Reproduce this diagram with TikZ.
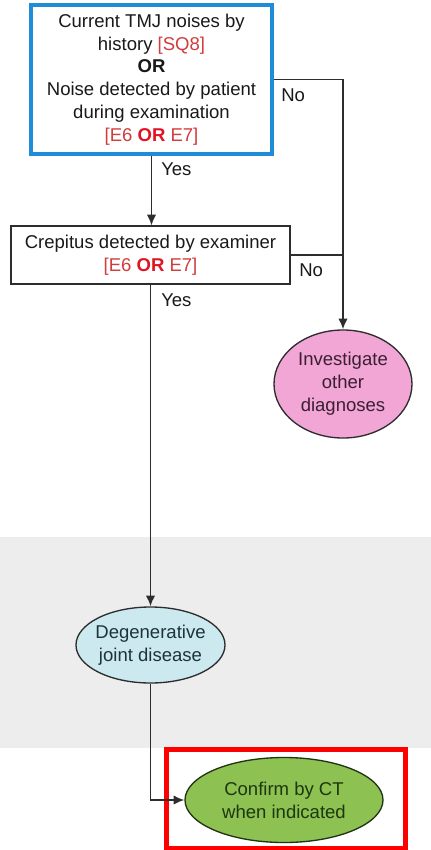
\documentclass[tikz,border=0pt]{standalone}
\usepackage{fontspec}
\setmainfont{Liberation Sans}
\usetikzlibrary{shapes.geometric,arrows.meta}

\definecolor{boxblue}{RGB}{30,140,215}
\definecolor{linegray}{RGB}{45,45,45}
\definecolor{codered}{RGB}{210,60,60}
\definecolor{orred}{RGB}{225,20,35}
\definecolor{pinkfill}{RGB}{241,166,214}
\definecolor{pinktext}{RGB}{60,30,50}
\definecolor{bluefill}{RGB}{204,233,240}
\definecolor{bluetext}{RGB}{30,50,60}
\definecolor{greenfill}{RGB}{141,193,82}
\definecolor{greentext}{RGB}{30,55,15}
\definecolor{bandgray}{RGB}{237,237,237}
\definecolor{frame}{RGB}{255,0,0}

\newcommand{\crit}[1]{\textcolor{codered}{#1}}
\newcommand{\eitheror}{\textcolor{codered}{[E6 \textcolor{orred}{\textbf{OR}} E7]}}

\begin{document}
\begin{tikzpicture}[x=0.75pt, y=-0.75pt,
  every node/.style={font=\fontsize{13.9}{17.1}\selectfont, text=black!90},
  question/.style={rectangle, align=center, inner sep=0pt, fill=white},
  outcome/.style={ellipse, align=center, inner sep=-6pt, draw=linegray, line width=1pt},
  flow/.style={draw=linegray, line width=1.3pt},
  arrowed/.style={flow, -{Latex[length=8pt, width=7pt]}},
  answer/.style={anchor=west, inner sep=0pt}
]
  \useasboundingbox (0,0) rectangle (431,850);
  \fill[white] (0,0) rectangle (431,850);

  % shaded band behind the final diagnosis
  \fill[bandgray] (0,537) rectangle (431,748);

  % decision boxes
  \node[question, draw=boxblue, line width=2.3pt, minimum width=180.75pt, minimum height=111.75pt]
    (noise) at (151.5,79.5)
    {\raisebox{-2pt}{\parbox{170pt}{\centering Current TMJ noises by\\ history \crit{[SQ8]}\\ \textbf{OR}\\ Noise detected by patient\\ during examination\\ \eitheror}}};

  \node[question, draw=linegray, line width=0.9pt, minimum width=209.25pt, minimum height=43.5pt]
    (crep) at (150.5,255)
    {\raisebox{-2pt}{\parbox{200pt}{\centering Crepitus detected by examiner\\ \eitheror}}};

  % outcomes
  \node[outcome, fill=pinkfill, minimum width=103.5pt, minimum height=81pt, text=pinktext]
    (other) at (343,384) {Investigate\\ other\\ diagnoses};

  \node[outcome, fill=bluefill, minimum width=111.75pt, minimum height=57pt, text=bluetext]
    (djd) at (150.5,645) {Degenerative\\ joint disease};

  \node[outcome, fill=greenfill, draw=greentext!80!linegray, minimum width=148.5pt, minimum height=63.75pt, text=greentext]
    (ct) at (284,800) {Confirm by CT\\ when indicated};

  % highlight frame round the last step
  \node[rectangle, draw=frame, line width=3.75pt, minimum width=179.25pt, minimum height=74.25pt, inner sep=0pt]
    (hl) at (285.5,798.5) {};

  % connectors
  \coordinate (join) at (crep.east -| other.north);
  \draw[arrowed] (noise.east) -| (other.north);
  \draw[flow] (crep.east) -- (join);
  \draw[arrowed] (noise.south) -- (noise.south |- crep.north);
  \draw[arrowed] (crep.south) -- (djd.north);
  \draw[arrowed] (djd.south) |- (ct.west);

  % answers on the branches
  \node[answer] (no1) at (281,95) {No};
  \node[answer] (yes1) at (161,169) {Yes};
  \node[answer] (no2) at (299,270) {No};
  \node[answer] (yes2) at (161,300) {Yes};
\end{tikzpicture}
\end{document}
